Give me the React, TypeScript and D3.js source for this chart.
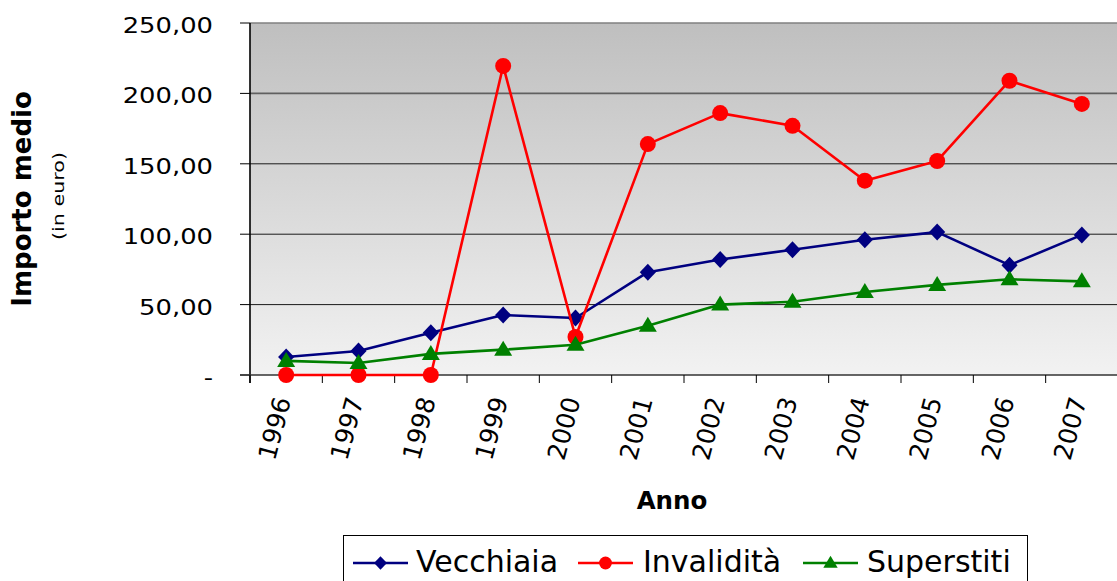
import React from "react";
import * as d3 from "d3";

const years = ["1996","1997","1998","1999","2000","2001","2002","2003","2004","2005","2006","2007"];
const vecchiaia = [12.8, 17, 30, 42.6, 40.5, 73, 82, 89, 96, 101.5, 78, 99.5];
const invalidita = [0, 0, 0, 219.5, 27, 164, 186, 177, 138, 152, 209, 192.5];
const superstiti = [10, 8.5, 15, 18, 21.5, 35, 50, 52, 59, 64, 68, 66.5];
const yTicks = [0, 50, 100, 150, 200, 250];
const seriesNames = ["Vecchiaia", "Invalidità", "Superstiti"];

const W = 1117, H = 581;
const M = { left: 250, top: 23, right: 1118, bottom: 375 };
const FONT = "'DejaVu Sans', Verdana, sans-serif";

const fmt = (v: number) => (v === 0 ? "-" : d3.format(".2f")(v).replace(".", ","));

function Marker({ kind, x, y, color, s = 1 }: { kind: string; x: number; y: number; color: string; s?: number }) {
  if (kind === "diamond") {
    const r = 8.5 * s;
    return <path d={`M${x},${y - r}L${x + r * 0.95},${y}L${x},${y + r}L${x - r * 0.95},${y}Z`} fill={color} />;
  }
  if (kind === "circle") return <circle cx={x} cy={y} r={8 * s} fill={color} />;
  const h = 15 * s, w = 9 * s;
  return <path d={`M${x},${y - h * 0.6}L${x + w},${y + h * 0.4}L${x - w},${y + h * 0.4}Z`} fill={color} />;
}

export default function App() {
  const x = d3.scaleBand().domain(years).range([M.left, M.right]);
  const y = d3.scaleLinear().domain([0, 250]).range([M.bottom, M.top]);
  const cx = (yr: string) => (x(yr) as number) + x.bandwidth() / 2;
  const line = d3.line<number>().x((_, i) => cx(years[i])).y((d) => y(d));

  const series = [
    { name: seriesNames[0], data: vecchiaia, color: "#000080", kind: "diamond" },
    { name: seriesNames[1], data: invalidita, color: "#ff0000", kind: "circle" },
    { name: seriesNames[2], data: superstiti, color: "#008000", kind: "triangle" },
  ];

  const legendPos = [
    { lx: 353, tx: 416 },
    { lx: 578, tx: 643 },
    { lx: 803, tx: 867 },
  ];

  const boundaries = years.map((yr) => x(yr) as number).concat([M.right]);

  return (
    <svg width={W} height={H} style={{ position: "absolute", left: 0, top: 0, background: "#fff" }} fontFamily={FONT}>
      <defs>
        <linearGradient id="bg" x1="0" y1="0" x2="0" y2="1">
          <stop offset="0" stopColor="#bfbfbf" />
          <stop offset="1" stopColor="#f2f2f2" />
        </linearGradient>
      </defs>
      <rect x={M.left} y={M.top} width={M.right - M.left} height={M.bottom - M.top} fill="url(#bg)" />
      {yTicks.map((t) => (
        <g key={t}>
          {t > 0 && (
            <line x1={M.left} x2={M.right} y1={y(t)} y2={y(t)}
              stroke={t === 250 ? "#808080" : t === 200 ? "#606060" : "#1a1a1a"} strokeWidth={t >= 200 ? 1.6 : 1} />
          )}
          <line x1={M.left - 10} x2={M.left} y1={y(t)} y2={y(t)} stroke="#000" strokeWidth={1} />
          <text transform={`translate(213,${y(t) + 10}) scale(1.26,1)`} textAnchor="end" fontSize={20.5} fill="#000">
            {fmt(t)}
          </text>
        </g>
      ))}
      <line x1={M.left} x2={M.left} y1={M.top} y2={M.bottom + 8} stroke="#000" strokeWidth={1.6} />
      <line x1={M.left - 10} x2={M.right} y1={M.bottom} y2={M.bottom} stroke="#333" strokeWidth={1.6} />
      {boundaries.map((b, i) => (
        <line key={i} x1={b} x2={b} y1={M.bottom} y2={M.bottom + 8} stroke="#000" strokeWidth={1} />
      ))}
      {years.map((yr) => (
        <text key={yr} transform={`translate(${cx(yr) + 5},400) rotate(-75)`} textAnchor="end" fontSize={25} fill="#000">
          {yr}
        </text>
      ))}
      {series.map((s) => (
        <g key={s.name}>
          <path d={line(s.data) || ""} fill="none" stroke={s.color} strokeWidth={2.6} strokeLinejoin="round" />
          {s.data.map((v, i) => (
            <Marker key={i} kind={s.kind} x={cx(years[i])} y={y(v)} color={s.color} />
          ))}
        </g>
      ))}
      <text transform="translate(31,199) rotate(-90)" textAnchor="middle" fontSize={26} fontWeight="bold" fill="#000">
        Importo medio
      </text>
      <text transform="translate(64,196) rotate(-90)" textAnchor="middle" fontSize={16} fill="#000" textLength={88} lengthAdjust="spacingAndGlyphs">
        (in euro)
      </text>
      <text x={672} y={509} textAnchor="middle" fontSize={24.5} fontWeight="bold" fill="#000">
        Anno
      </text>
      <rect x={343.5} y={535.5} width={684} height={60} fill="#fff" stroke="#000" strokeWidth={1} />
      {series.map((s, i) => (
        <g key={s.name}>
          <line x1={legendPos[i].lx} x2={legendPos[i].lx + 55} y1={563} y2={563} stroke={s.color} strokeWidth={2.6} />
          <Marker kind={s.kind} x={legendPos[i].lx + 27.5} y={563} color={s.color} s={0.8} />
          <text x={legendPos[i].tx} y={572} fontSize={30} fill="#000">{s.name}</text>
        </g>
      ))}
    </svg>
  );
}
